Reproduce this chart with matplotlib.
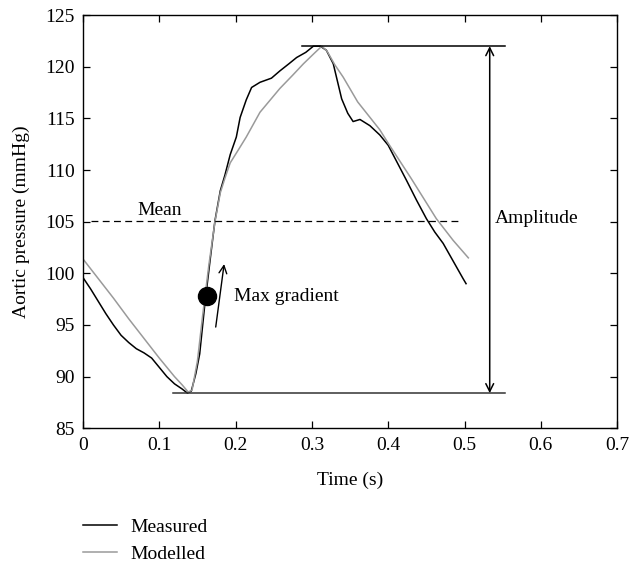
import numpy as np
import matplotlib.pyplot as plt

plt.rcParams["font.family"] = ["Liberation Serif", "DejaVu Serif"]
plt.rcParams["font.size"] = 14

# Measured aortic pressure (black)
t_meas = [0, 0.01, 0.02, 0.03, 0.04, 0.05, 0.06, 0.07, 0.08, 0.09, 0.10, 0.11,
          0.12, 0.13, 0.137, 0.142, 0.148, 0.153, 0.160, 0.167, 0.173, 0.180,
          0.186, 0.193, 0.201, 0.206, 0.214, 0.221, 0.232, 0.247, 0.258, 0.270,
          0.280, 0.292, 0.302, 0.311, 0.319, 0.328, 0.339, 0.347, 0.354, 0.363,
          0.376, 0.389, 0.400, 0.412, 0.424, 0.437, 0.450, 0.461, 0.472, 0.485,
          0.498, 0.502]
p_meas = [99.6, 98.5, 97.3, 96.1, 95.0, 94.0, 93.3, 92.7, 92.3, 91.8, 90.9, 90.0,
          89.3, 88.8, 88.4, 88.6, 90.3, 92.2, 97.2, 101.5, 105.1, 108.0,
          109.5, 111.5, 113.2, 115.1, 116.8, 118.0, 118.5, 118.9, 119.6, 120.3,
          120.9, 121.4, 122.0, 122.0, 121.6, 120.3, 116.9, 115.5, 114.7, 114.9,
          114.3, 113.4, 112.4, 110.7, 109.0, 107.1, 105.3, 104.0, 102.9, 101.2,
          99.5, 99.0]

# Modelled aortic pressure (grey)
t_mod = [0, 0.02, 0.04, 0.06, 0.08, 0.10, 0.12, 0.13, 0.138, 0.143, 0.150,
         0.157, 0.165, 0.173, 0.180, 0.186, 0.193, 0.204, 0.214, 0.232, 0.258,
         0.275, 0.289, 0.303, 0.313, 0.320, 0.330, 0.341, 0.360, 0.389, 0.400,
         0.430, 0.463, 0.485, 0.505]
p_mod = [101.4, 99.5, 97.6, 95.6, 93.7, 91.8, 90.0, 89.2, 88.5, 88.7, 91.5,
         96.0, 100.8, 105.0, 107.8, 109.2, 110.7, 112.0, 113.2, 115.6, 117.9,
         119.2, 120.3, 121.3, 122.0, 121.5, 120.2, 119.0, 116.6, 113.9, 112.6,
         109.2, 105.3, 103.2, 101.5]

p_mean = 105.1
p_max = 122.0
p_min = 88.4
t_grad, p_grad = 0.162, 97.8

fig = plt.figure(figsize=(6.33, 5.62), dpi=100)
ax = fig.add_axes([0.131, 0.238, 0.844, 0.735])

ax.plot(t_meas, p_meas, color="black", lw=1.1, label="Measured")
ax.plot(t_mod, p_mod, color="#9a9a9a", lw=1.1, label="Modelled")

# annotations
ax.plot([0.01, 0.495], [p_mean, p_mean], color="black", lw=0.9, ls=(0, (5.5, 3.5)))
ax.text(0.1, p_mean + 0.2, "Mean", ha="center", va="bottom")
ax.plot([0.287, 0.553], [p_max, p_max], color="black", lw=1.1)
ax.plot([0.118, 0.553], [p_min, p_min], color="#333333", lw=1.1)
ax.annotate("", xy=(0.533, p_max), xytext=(0.533, p_min),
            arrowprops=dict(arrowstyle="<->", lw=1.1, color="black",
                            shrinkA=0, shrinkB=0))
ax.text(0.540, 105.3, "Amplitude", ha="left", va="center")
ax.plot([t_grad], [p_grad], "o", color="black", ms=13)
ax.annotate("", xy=(0.185, 100.9), xytext=(0.174, 94.8),
            arrowprops=dict(arrowstyle="->", lw=1.0, color="black",
                            shrinkA=0, shrinkB=0))
ax.text(0.198, p_grad, "Max gradient", ha="left", va="center")

ax.set_xlim(0, 0.7)
ax.set_ylim(85, 125)
ax.set_xticks(np.arange(0, 0.71, 0.1))
ax.set_xticklabels(["0", "0.1", "0.2", "0.3", "0.4", "0.5", "0.6", "0.7"])
ax.set_yticks(np.arange(85, 126, 5))
ax.tick_params(direction="in", top=True, right=True, length=5, width=0.9, pad=6)
for s in ax.spines.values():
    s.set_linewidth(1.0)
ax.set_xlabel("Time (s)", labelpad=13)
ax.set_ylabel("Aortic pressure (mmHg)", labelpad=11)

fig.legend(loc="upper left", bbox_to_anchor=(0.131, 0.078), frameon=False,
           handlelength=1.75, labelspacing=0.5, handletextpad=0.7,
           borderaxespad=0, borderpad=0)

fig.savefig("out.png", dpi=100)
